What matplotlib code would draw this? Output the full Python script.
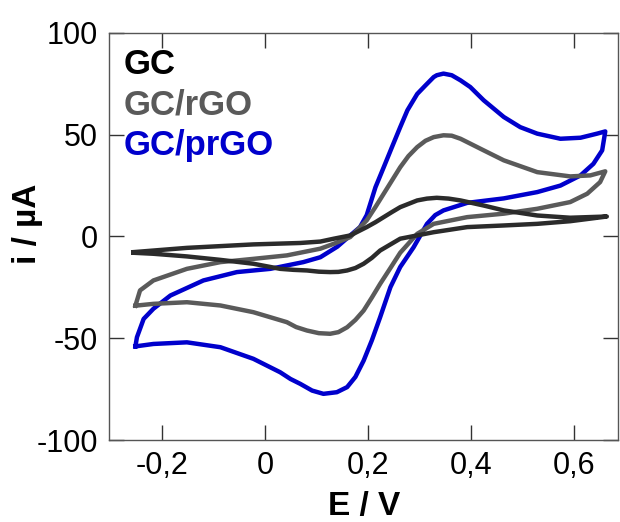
import matplotlib
matplotlib.use('Agg')
import matplotlib.pyplot as plt

plt.rcParams['font.family'] = ['Liberation Sans', 'DejaVu Sans']
plt.rcParams['axes.unicode_minus'] = False

# GC/prGO (blue): forward scan then reverse scan
e_prgo = [-0.252, -0.249, -0.236, -0.217, -0.184, -0.12, -0.055, 0.01, 0.074, 0.107,
          0.14, 0.165, 0.184, 0.197, 0.214, 0.23, 0.246, 0.262, 0.276, 0.295,
          0.311, 0.327, 0.333, 0.346, 0.362, 0.379, 0.398, 0.424, 0.463, 0.495,
          0.528, 0.573, 0.612, 0.644, 0.660,
          0.654, 0.637, 0.612, 0.573, 0.528, 0.463, 0.392, 0.346, 0.33, 0.314,
          0.288, 0.262, 0.243, 0.223, 0.207, 0.191, 0.175, 0.159, 0.139, 0.113,
          0.091, 0.068, 0.049, 0.029, -0.023, -0.087, -0.152, -0.217, -0.252]
i_prgo = [-54, -49.5, -40.5, -35.5, -29, -21.6, -17.5, -15.9, -12.6, -10.2,
          -5, 0.5, 4.6, 10.5, 24.2, 34, 43.9, 53.7, 62, 70,
          74.2, 78.3, 79.2, 80, 79.2, 76.7, 73.4, 66.9, 58.7, 53.7,
          50.5, 48, 48.5, 50.5, 51.6,
          42.3, 35.7, 30, 25, 21.8, 18.7, 16.5, 12.8, 10.5, 6.2,
          -5.3, -15, -24.9, -39.7, -51, -61, -69, -74, -76.5, -77.3,
          -75.7, -72.4, -70, -66.7, -60.1, -54.4, -52, -52.8, -54]

# GC/rGO (grey)
e_rgo = [-0.252, -0.243, -0.217, -0.152, -0.087, -0.023, 0.042, 0.107, 0.133, 0.165,
         0.197, 0.214, 0.23, 0.246, 0.262, 0.278, 0.295, 0.311, 0.327, 0.346,
         0.362, 0.379, 0.398, 0.424, 0.463, 0.528, 0.592, 0.631, 0.660,
         0.650, 0.625, 0.592, 0.528, 0.463, 0.392, 0.327, 0.295, 0.262, 0.243,
         0.223, 0.207, 0.191, 0.175, 0.159, 0.142, 0.126, 0.104, 0.081, 0.06,
         0.042, -0.023, -0.087, -0.152, -0.217, -0.252]
i_rgo = [-34, -26.5, -21.6, -15.9, -12.6, -11, -9.3, -6, -3.6, -0.3,
         7.9, 14.5, 21, 27.5, 34, 39.5, 43.9, 47, 48.8, 49.7,
         49.5, 48, 45.6, 42.3, 37.4, 31.6, 29.5, 30, 32,
         26.7, 21, 16.9, 13.6, 11.2, 9.5, 6.2, 1.3, -8, -15.5,
         -23.3, -30, -36.4, -41, -44.6, -47, -47.8, -47.5, -46.2, -44.5,
         -42.1, -37.2, -33.9, -32.3, -33.1, -34]

# GC (black)
e_gc = [-0.256, -0.152, -0.023, 0.068, 0.107, 0.133, 0.165, 0.197, 0.214, 0.23,
        0.246, 0.262, 0.295, 0.314, 0.333, 0.356, 0.379, 0.424, 0.463, 0.528,
        0.592, 0.663,
        0.592, 0.528, 0.463, 0.392, 0.327, 0.262, 0.223, 0.207, 0.191, 0.175,
        0.159, 0.142, 0.126, 0.104, 0.081, 0.055, 0.029, -0.023, -0.087, -0.152,
        -0.217, -0.256]
i_gc = [-7.7, -5.6, -3.9, -3.2, -2.5, -1.1, 0.5, 4.6, 7, 9.5,
        12, 14.4, 17.7, 18.6, 19, 18.6, 17.7, 15.2, 12.8, 10.3,
        9.2, 9.8,
        7.5, 6.2, 5.4, 4.6, 2.1, -1.1, -6.9, -10.5, -13.4, -15.5,
        -16.7, -17.4, -17.5, -17.3, -16.7, -16.4, -15.9, -13.4, -11.5, -9.8,
        -8.5, -8]

labels = ['GC', 'GC/rGO', 'GC/prGO']
colors = ['#2b2b2b', '#5a5a5a', '#0000cc']
xticks = [-0.2, 0, 0.2, 0.4, 0.6]
xticklabels = ['-0,2', '0', '0,2', '0,4', '0,6']
yticks = [-100, -50, 0, 50, 100]

fig = plt.figure(figsize=(6.2, 5.22), dpi=100)
ax = fig.add_axes([0.176, 0.157, 0.821, 0.78])

ax.plot(e_prgo, i_prgo, color=colors[2], lw=3.2, solid_joinstyle='round')
ax.plot(e_rgo, i_rgo, color=colors[1], lw=3.2, solid_joinstyle='round')
ax.plot(e_gc, i_gc, color=colors[0], lw=3.2, solid_joinstyle='round')

ax.set_xlim(-0.303, 0.685)
ax.set_ylim(-100, 100)
ax.set_xticks(xticks)
ax.set_xticklabels(xticklabels)
ax.set_yticks(yticks)
ax.tick_params(direction='in', length=11, width=1, color='#333333',
               labelsize=22, top=True, right=True, pad=8)
for s in ax.spines.values():
    s.set_color('#555555')
    s.set_linewidth(1)

ax.set_xlabel('E / V', fontsize=24, fontweight='bold', labelpad=7)
fig.text(0.044, 0.572, 'i / µA', fontsize=24, fontweight='bold',
         rotation=90, ha='center', va='center')

# labels in the top left instead of a legend box
for k, (lab, c) in enumerate(zip(labels, colors)):
    ax.text(0.028, 0.9 - k * 0.1, lab, color=c if k else '#000000', fontsize=25,
            fontweight='bold', transform=ax.transAxes, va='baseline')

fig.savefig('out.png', dpi=100)
